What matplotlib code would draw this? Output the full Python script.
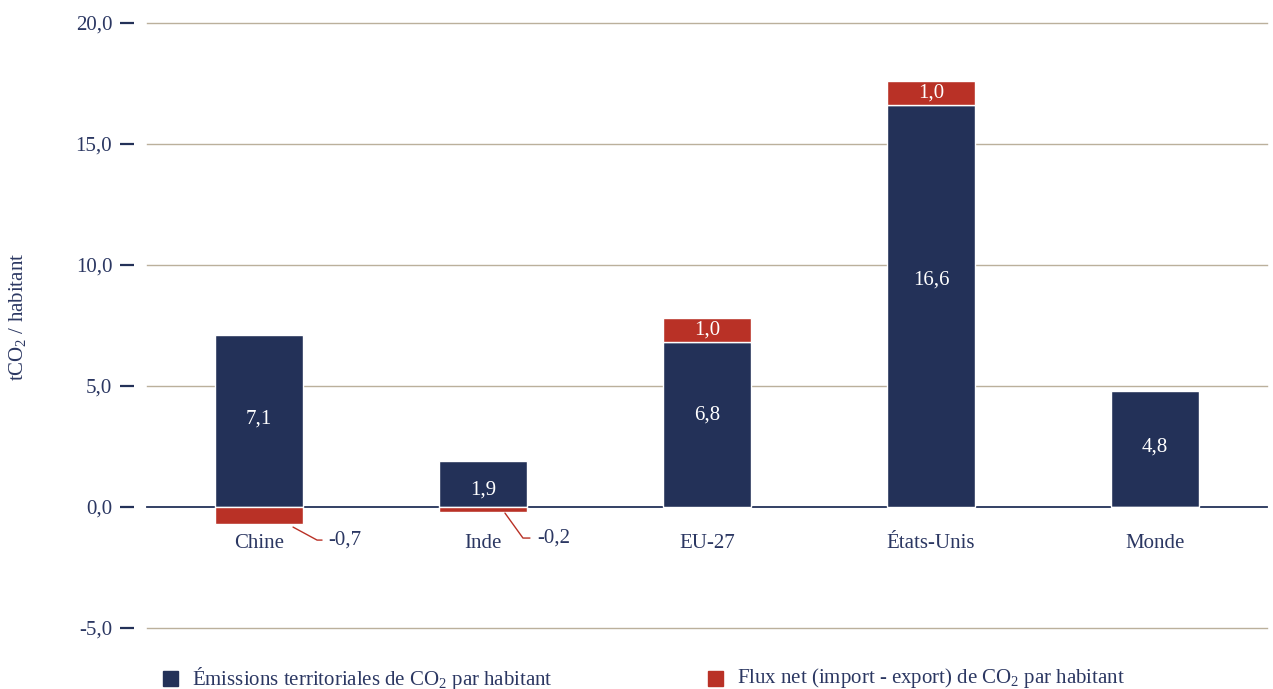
import matplotlib
matplotlib.use("Agg")
import matplotlib.pyplot as plt
from matplotlib.patches import Rectangle
import numpy as np

# Data
categories = ["Chine", "Inde", "EU-27", "États-Unis", "Monde"]
territorial = [7.1, 1.9, 6.8, 16.6, 4.8]
net_flux = [-0.7, -0.2, 1.0, 1.0, 0.0]
yticks = [-5.0, 0.0, 5.0, 10.0, 15.0, 20.0]
series_names = ["Émissions territoriales de CO$_2$ par habitant",
                "Flux net (import - export) de CO$_2$ par habitant"]

NAVY = "#233158"
RED = "#B93126"
TEXT = "#2b3762"
GRID = "#bbb09c"
FS = 15

plt.rcParams["font.family"] = ["Liberation Serif", "DejaVu Serif"]
plt.rcParams["mathtext.fontset"] = "custom"
plt.rcParams["mathtext.rm"] = "Liberation Serif"
plt.rcParams["mathtext.default"] = "regular"

fig = plt.figure(figsize=(12.73, 6.89), dpi=100)
ax = fig.add_axes([147 / 1273, 1 - 628 / 689, 1120 / 1273, 605 / 689])

x = np.arange(len(categories))
width = 0.393

ax.set_xlim(-0.5, len(categories) - 0.5)
ax.set_ylim(-5, 20)

# Grid lines and zero line
for t in yticks:
    if t == 0:
        ax.axhline(0, color=NAVY, lw=1.3, zorder=2, clip_on=False)
    else:
        ax.axhline(t, color=GRID, lw=1.0, zorder=1, clip_on=False)

# Bars
ax.bar(x, territorial, width, color=NAVY, edgecolor="white", linewidth=1.0, zorder=3)
flux_bottom = [t if f > 0 else 0 for t, f in zip(territorial, net_flux)]
ax.bar(x, net_flux, width, bottom=flux_bottom, color=RED, edgecolor="white",
       linewidth=1.0, zorder=3)

def fmt(v):
    return f"{v:.1f}".replace(".", ",")

# Value labels in the navy bars (fraction of bar height)
label_frac = [0.51, 0.37, 0.56, 0.565, 0.52]
for i, (t, fr) in enumerate(zip(territorial, label_frac)):
    ax.text(i, t * fr, fmt(t), ha="center", va="center", color="white",
            fontsize=FS, zorder=4)

# Positive flux labels inside the red segments
for i, (t, f) in enumerate(zip(territorial, net_flux)):
    if f > 0:
        ax.text(i, t + f / 2, fmt(f), ha="center", va="center", color="white",
                fontsize=FS, zorder=4)

# Negative flux labels with leader lines (offsets in pixels)
leader = {0: dict(ax=0.152, ay=0.13, bend=(24, -13), end=(5, 0), txt=(6, 0)),
          1: dict(ax=0.098, ay=0.05, bend=(18, -25), end=(7, 0), txt=(7, 0))}
for i, f in enumerate(net_flux):
    if f < 0 and i in leader:
        L = leader[i]
        A = (i + L["ax"], f - L["ay"])
        bx, by = L["bend"]
        ex, ey = L["end"]
        # diagonal part, then a short horizontal end
        ax.annotate("", xy=A, xytext=(bx + ex, by + ey), textcoords="offset pixels",
                    arrowprops=dict(arrowstyle="-", color=RED, lw=1.0,
                                    shrinkA=0, shrinkB=0,
                                    connectionstyle="angle,angleA=0,angleB=%f" %
                                    np.degrees(np.arctan2(by, bx))), zorder=4)
        tx, ty = L["txt"]
        ax.annotate(fmt(f), xy=A, xytext=(bx + ex + tx, by + ey),
                    textcoords="offset pixels", ha="left", va="center",
                    color=TEXT, fontsize=FS)

# Category labels just below the zero line
for i, c in enumerate(categories):
    ax.text(i, -1.5, c, ha="center", va="center", color=TEXT, fontsize=FS)

# Y axis: labels and detached tick dashes
ax.set_yticks(yticks)
ax.set_yticklabels([fmt(t) for t in yticks], color=TEXT, fontsize=FS)
ax.tick_params(axis="y", length=0, pad=25)
ax.set_xticks([])
trans = ax.get_yaxis_transform()
for t in yticks:
    ax.plot([-0.0241, -0.0116], [t, t], transform=trans, color=NAVY, lw=1.6,
            clip_on=False, solid_capstyle="butt")

for s in ax.spines.values():
    s.set_visible(False)

fig.text(18 / 1273, 1 - 317 / 689, "tCO$_2$ / habitant", rotation=90,
         ha="center", va="center", color=TEXT, fontsize=FS)

# Legend
legend_items = [(163, NAVY, series_names[0]), (708, RED, series_names[1])]
for px, col, name in legend_items:
    fig.patches.append(Rectangle((px / 1273, 1 - 686 / 689), 15 / 1273, 15 / 689,
                                 transform=fig.transFigure, color=col))
    fig.text((px + 29) / 1273, 1 - 678 / 689, name, ha="left", va="center",
             color=TEXT, fontsize=FS)

fig.savefig("out.png", dpi=100)
